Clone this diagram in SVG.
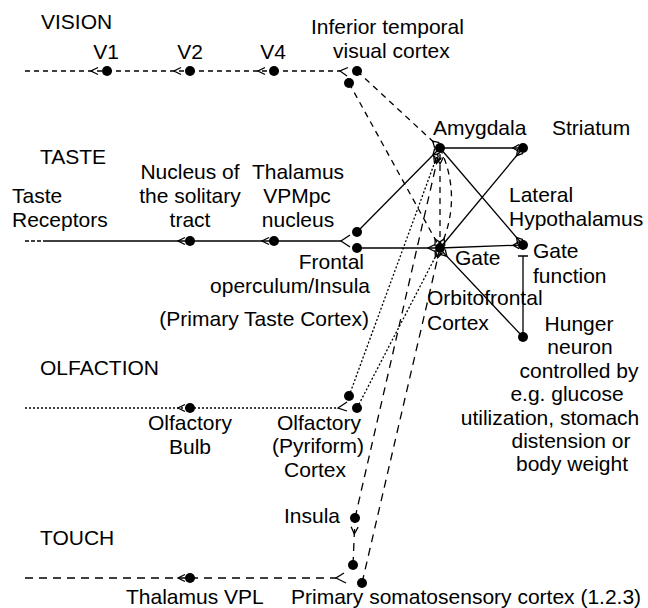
<svg xmlns="http://www.w3.org/2000/svg" width="648" height="608" viewBox="0 0 648 608">
<style>
text{font-family:"Liberation Sans",Arial,Helvetica,sans-serif;font-size:21px;fill:#000}
.m{text-anchor:middle}
.e{text-anchor:end}
.dot{fill:#000}
.ln{fill:none;stroke:#000;stroke-width:1.3}
.vis{stroke-dasharray:5,4}
.dg{stroke-dasharray:6,5}
.olf{stroke-dasharray:2,2}
.tch{stroke-dasharray:8,6}
.ch{fill:none;stroke:#000;stroke-width:1.3;stroke-dasharray:none}
</style>
<defs>
<marker id="cf" markerUnits="userSpaceOnUse" viewBox="0 0 30 12" markerWidth="30" markerHeight="12" refX="17" refY="6" orient="auto"><path d="M8,2.5 L1,6 L8,9.5" class="ch"/></marker>
<marker id="cm" markerUnits="userSpaceOnUse" viewBox="0 0 30 12" markerWidth="30" markerHeight="12" refX="13" refY="6" orient="auto"><path d="M8,2.5 L1,6 L8,9.5" class="ch"/></marker>
<marker id="cn" markerUnits="userSpaceOnUse" viewBox="0 0 30 12" markerWidth="30" markerHeight="12" refX="11" refY="6" orient="auto"><path d="M7,2.5 L1,6 L7,9.5" class="ch"/></marker>
</defs>
<rect width="648" height="608" fill="#fff"/>

<g id="headers">
<text x="41" y="29">VISION</text>
<text x="40" y="164">TASTE</text>
<text x="40" y="375">OLFACTION</text>
<text x="40" y="545">TOUCH</text>
</g>

<g id="connectors">
<!-- vision -->
<path class="ln vis" d="M25,71 H107" marker-end="url(#cf)"/>
<path class="ln vis" d="M107,71 H190" marker-end="url(#cf)"/>
<path class="ln vis" d="M190,71 H274" marker-end="url(#cf)"/>
<path class="ln vis" d="M274,71 H340"/>
<path class="ch" d="M348,67.5 L340,71 L347,76"/>
<path class="ln dg" d="M357,71 L440,148" marker-end="url(#cn)"/>
<path class="ln dg" d="M349,83 L440,248" marker-end="url(#cn)"/>
<!-- taste -->
<path class="ln" d="M25,241 H45" stroke-dasharray="4,2"/>
<path class="ln" d="M45,241 H190" marker-end="url(#cm)"/>
<path class="ln" d="M190,241 H274" marker-end="url(#cm)"/>
<path class="ln" d="M274,241 H341"/>
<path class="ch" d="M350,235 L341,241 L350,247"/>
<path class="ln" d="M357,232 L440,148" marker-end="url(#cn)"/>
<path class="ln" d="M357,248 L440,248" marker-end="url(#cm)"/>
<path class="ln" d="M440,148 L523,148" marker-end="url(#cn)"/>
<path class="ln" d="M440,148 L523,245" marker-end="url(#cn)"/>
<path class="ln" d="M440,248 L523,148" marker-end="url(#cn)"/>
<path class="ln" d="M440,248 L523,245" marker-end="url(#cn)"/>
<path class="ln" d="M523,337 V256 M518,256 H528"/>
<path class="ln" d="M523,337 L440,249" marker-end="url(#cn)"/>
<path class="ln dg" d="M440,248 V148" marker-end="url(#cf)"/>
<path class="ln dg" d="M440,148 Q463,198 440,248" marker-end="url(#cn)"/>
<!-- olfaction -->
<path class="ln olf" d="M25,408 H190" marker-end="url(#cm)"/>
<path class="ln olf" d="M190,408 H338"/>
<path class="ch" d="M347,402 L338,408 L347,411"/>
<path class="ln olf" d="M349,396 L440,148" marker-end="url(#cf)"/>
<path class="ln olf" d="M357,408 L440,248" marker-end="url(#cn)"/>
<!-- touch -->
<path class="ln tch" d="M25,578 H190" marker-end="url(#cm)"/>
<path class="ln tch" d="M190,578 H336"/>
<path class="ch" d="M344,573 L336,578 L346,583"/>
<path class="ln tch" d="M353,565 L355,518" marker-end="url(#cf)"/>
<path class="ln tch" d="M355,518 L440,148" marker-end="url(#cf)"/>
<path class="ln tch" d="M362,583 L440,248" marker-end="url(#cn)"/>
</g>

<g id="v1"><circle class="dot" cx="107" cy="71" r="5"/><text class="m" x="106" y="59">V1</text></g>
<g id="v2"><circle class="dot" cx="190" cy="71" r="5"/><text class="m" x="190" y="59">V2</text></g>
<g id="v4"><circle class="dot" cx="274" cy="71" r="5"/><text class="m" x="273" y="59">V4</text></g>
<g id="it"><circle class="dot" cx="357" cy="71" r="5"/><circle class="dot" cx="349" cy="83" r="5"/>
<text x="311" y="34">Inferior temporal</text><text x="333" y="58">visual cortex</text></g>
<g id="amygdala"><circle class="dot" cx="440" cy="148" r="5"/><text x="433" y="135">Amygdala</text></g>
<g id="striatum"><circle class="dot" cx="523" cy="148" r="5"/><text x="552" y="135">Striatum</text></g>
<g id="lateral-hypothalamus"><text x="509" y="202">Lateral</text><text x="509" y="226">Hypothalamus</text>
<circle class="dot" cx="523" cy="245" r="5"/><text x="533" y="258">Gate</text><text x="533" y="283">function</text></g>
<g id="taste-receptors"><text x="12" y="203">Taste</text><text x="12" y="227">Receptors</text></g>
<g id="nts"><circle class="dot" cx="190" cy="241" r="5"/><text class="m" x="190" y="179">Nucleus of</text><text class="m" x="190" y="203">the solitary</text><text class="m" x="190" y="227">tract</text></g>
<g id="vpmpc"><circle class="dot" cx="274" cy="241" r="5"/><text class="m" x="298" y="179">Thalamus</text><text class="m" x="297" y="203">VPMpc</text><text class="m" x="298" y="227">nucleus</text></g>
<g id="frontal-operculum"><circle class="dot" cx="357" cy="232" r="5"/><circle class="dot" cx="357" cy="248" r="5"/>
<text class="e" x="364" y="269">Frontal</text><text class="e" x="370" y="293">operculum/Insula</text><text class="e" x="369" y="326">(Primary Taste Cortex)</text></g>
<g id="ofc"><circle class="dot" cx="440" cy="248" r="5"/><text x="455" y="265">Gate</text><text x="427" y="305">Orbitofrontal</text><text x="427" y="330">Cortex</text></g>
<g id="hunger"><circle class="dot" cx="523" cy="337" r="5"/>
<text class="m" x="579" y="331">Hunger</text><text class="m" x="580" y="354">neuron</text><text class="m" x="579" y="378">controlled by</text><text class="m" x="567" y="401">e.g. glucose</text><text class="m" x="550" y="425">utilization, stomach</text><text class="m" x="571" y="448">distension or</text><text class="m" x="572" y="471">body weight</text></g>
<g id="olfactory-bulb"><circle class="dot" cx="190" cy="408" r="5"/><text class="m" x="190" y="430">Olfactory</text><text class="m" x="190" y="454">Bulb</text></g>
<g id="pyriform"><circle class="dot" cx="349" cy="396" r="5"/><circle class="dot" cx="357" cy="408" r="5"/>
<text class="m" x="319" y="430">Olfactory</text><text class="m" x="318" y="453">(Pyriform)</text><text class="m" x="315" y="477">Cortex</text></g>
<g id="thalamus-vpl"><circle class="dot" cx="190" cy="578" r="5"/><text x="126" y="604">Thalamus VPL</text></g>
<g id="insula"><circle class="dot" cx="355" cy="518" r="5"/><text class="e" x="340" y="523">Insula</text></g>
<g id="somatosensory"><circle class="dot" cx="353" cy="565" r="5"/><circle class="dot" cx="362" cy="583" r="5"/><text x="291" y="604">Primary somatosensory cortex (1.2.3)</text></g>
</svg>
